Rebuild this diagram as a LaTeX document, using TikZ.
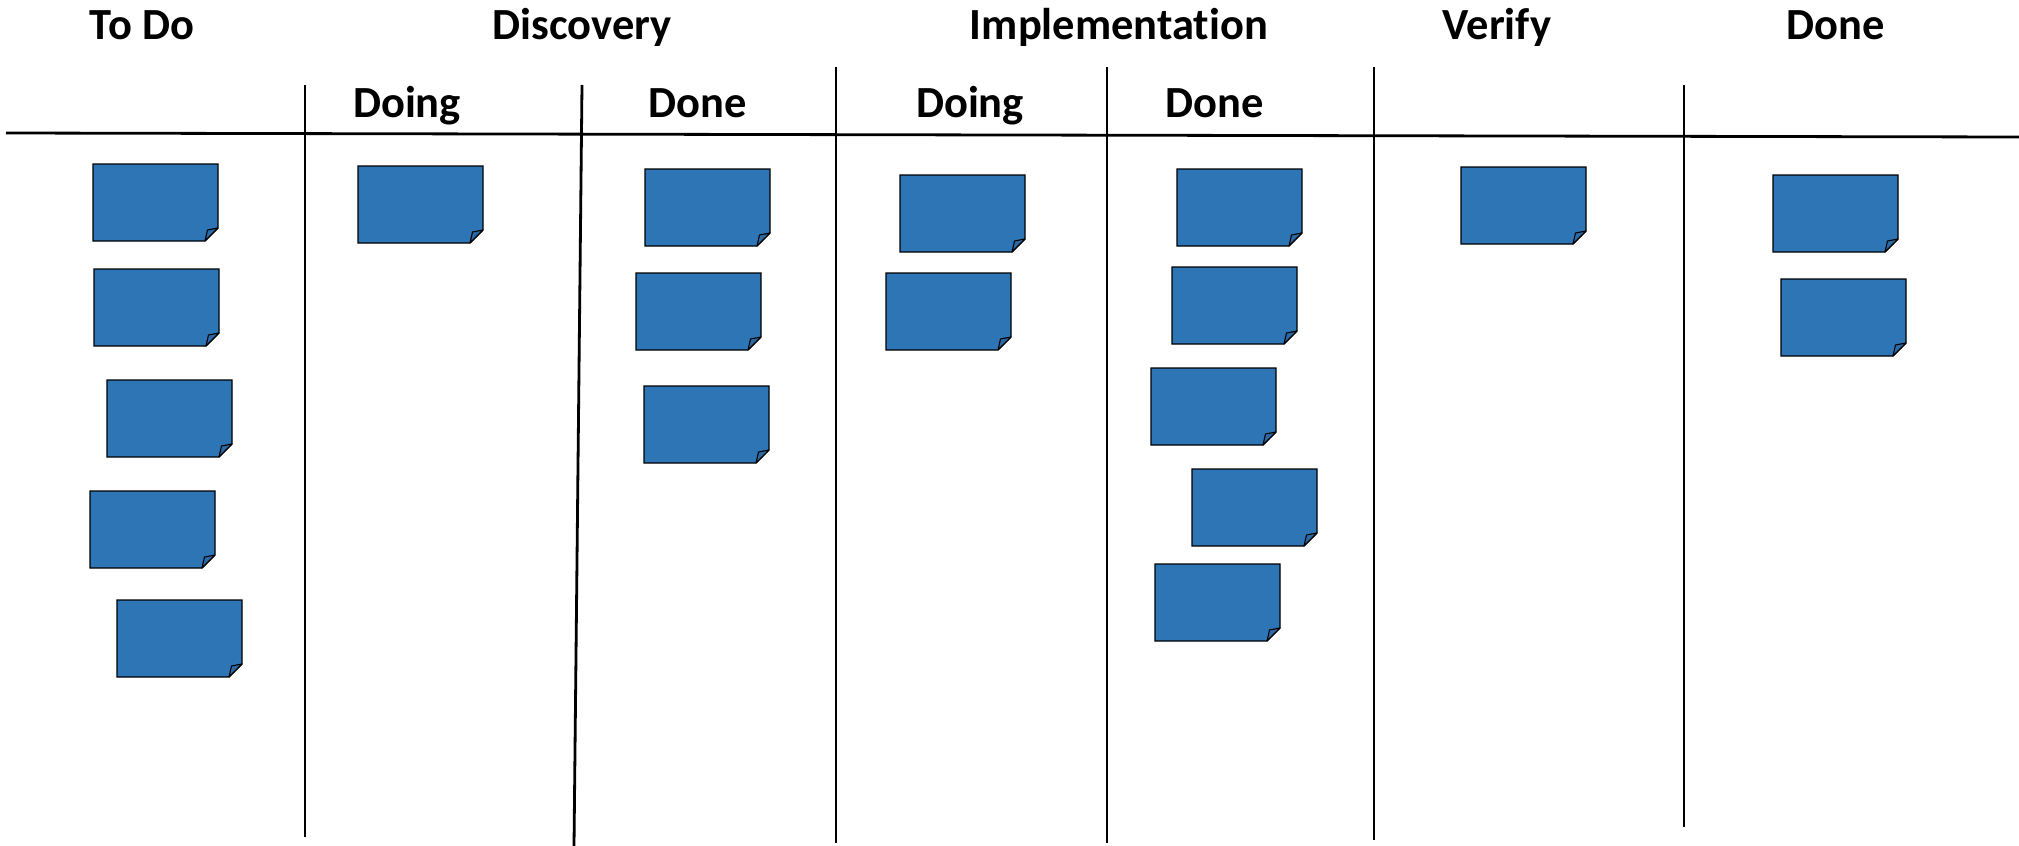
\documentclass[tikz,border=0pt]{standalone}
\usepackage{fontspec}
\setmainfont{Carlito}[Ligatures=NoCommon]
\usetikzlibrary{calc}
\definecolor{noteblue}{HTML}{2E75B6}
\definecolor{folddark}{HTML}{2A6BA7}
\tikzset{
  notebox/.style={anchor=north west, minimum width=125pt, minimum height=77pt, inner sep=0pt, outer sep=0pt, draw=none},
  notefill/.style={fill=noteblue, draw=black, line width=1.2pt, line join=miter},
  foldfill/.style={fill=folddark, draw=black, line width=1.1pt, line join=round},
  rule/.style={line width=2.8pt, black},
  head/.style={font=\fontsize{44.5}{52}\selectfont\bfseries, inner sep=0pt, anchor=base}
}
\newcommand\stickynote[3]{%
  \node[notebox] (#1) at (#2,#3) {};
  \path[notefill] (#1.north west) -- (#1.north east) -- ($(#1.south east)+(0,-13)$) -- ($(#1.south east)+(-13,0)$) -- (#1.south west) -- cycle;
  \path[foldfill] ($(#1.south east)+(-13,0)$) .. controls ($(#1.south east)+(-12,-6)$) .. ($(#1.south east)+(-10.5,-11)$) -- ($(#1.south east)+(0,-13)$) -- cycle;
}
\begin{document}
\begin{tikzpicture}[x=1pt,y=-1pt]
\useasboundingbox (0,0) rectangle (2019,846);
% headings
\node[head] (todo) at (142,39) {To Do};
\node[head] (disc) at (582,39) {Discovery};
\node[head] (impl) at (1119,39) {Implementation};
\node[head] (verify) at (1497,39) {Verify};
\node[head] (done) at (1836,39) {Done};
\node[head] (ddoing) at (407,117) {Doing};
\node[head] (ddone) at (698,117) {Done};
\node[head] (idoing) at (970,117) {Doing};
\node[head] (idone) at (1215,117) {Done};
% rules
\coordinate (hl) at (6,133);
\coordinate (hr) at (2019,137);
\draw[rule] (hl) -- (hr);
\coordinate (v1t) at (305,85);  \coordinate (v1b) at (305,837);
\coordinate (v2t) at (582,85);  \coordinate (v2b) at (574,846);
\coordinate (v3t) at (836,67);  \coordinate (v3b) at (836,843);
\coordinate (v4t) at (1107,67); \coordinate (v4b) at (1107,843);
\coordinate (v5t) at (1374,67); \coordinate (v5b) at (1374,840);
\coordinate (v6t) at (1684,85); \coordinate (v6b) at (1684,827);
\draw[rule] (v1t) -- (v1b);
\draw[rule] (v2t) -- (v2b);
\draw[rule] (v3t) -- (v3b);
\draw[rule] (v4t) -- (v4b);
\draw[rule] (v5t) -- (v5b);
\draw[rule] (v6t) -- (v6b);
% notes
\stickynote{n1}{93}{164}
\stickynote{n2}{94}{269}
\stickynote{n3}{107}{380}
\stickynote{n4}{90}{491}
\stickynote{n5}{117}{600}
\stickynote{n6}{358}{166}
\stickynote{n7}{645}{169}
\stickynote{n8}{636}{273}
\stickynote{n9}{644}{386}
\stickynote{n10}{900}{175}
\stickynote{n11}{886}{273}
\stickynote{n12}{1177}{169}
\stickynote{n13}{1172}{267}
\stickynote{n14}{1151}{368}
\stickynote{n15}{1192}{469}
\stickynote{n16}{1155}{564}
\stickynote{n17}{1461}{167}
\stickynote{n18}{1773}{175}
\stickynote{n19}{1781}{279}
\end{tikzpicture}
\end{document}
